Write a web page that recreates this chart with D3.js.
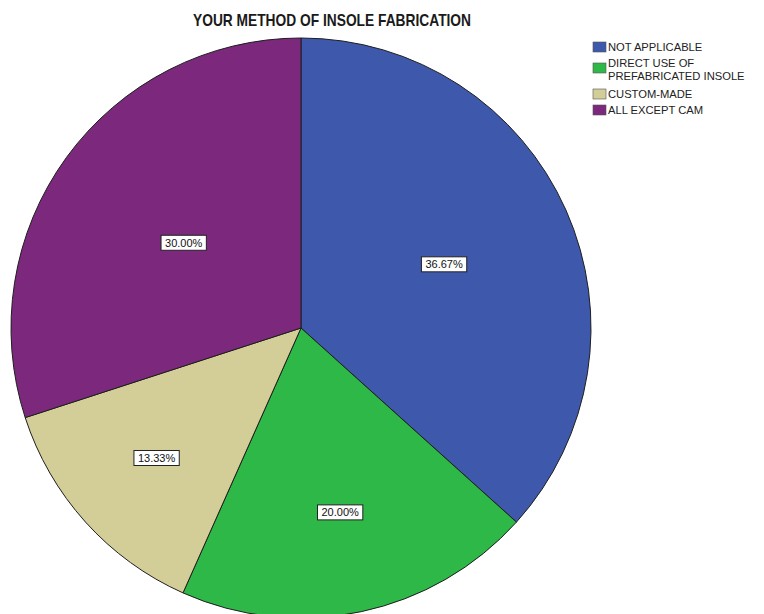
<!DOCTYPE html>
<html>
<head>
<meta charset="utf-8">
<script src="https://cdn.jsdelivr.net/npm/d3@7/dist/d3.min.js"></script>
<style>
  html, body { margin: 0; padding: 0; background: #fff; }
  svg { display: block; }
</style>
</head>
<body>
<svg id="chart" width="764" height="614"></svg>
<script>
// Method of insole fabrication, share of respondents (%)
const categories = ["NOT APPLICABLE", "DIRECT USE OF PREFABRICATED INSOLE", "CUSTOM-MADE", "ALL EXCEPT CAM"];
const legendLines = [["NOT APPLICABLE"], ["DIRECT USE OF", "PREFABRICATED INSOLE"], ["CUSTOM-MADE"], ["ALL EXCEPT CAM"]];
const percents = [36.67, 20.00, 13.33, 30.00];
const colors = ["#3e58ac", "#2eb848", "#d3ce97", "#7c287d"];
const title = "YOUR METHOD OF INSOLE FABRICATION";

const width = 764, height = 614;
const cx = 301, cy = 328, radius = 290;
// radial position of each value label, as a fraction of the radius
const labelFrac = [0.54, 0.65, 0.67, 0.50];

const svg = d3.select("#chart");

// Title
svg.append("text")
  .attr("x", 332)
  .attr("y", 26)
  .attr("text-anchor", "middle")
  .attr("font-family", "Liberation Sans, Arial, sans-serif")
  .attr("font-weight", "bold")
  .attr("font-size", 17)
  .attr("textLength", 278)
  .attr("lengthAdjust", "spacingAndGlyphs")
  .attr("fill", "#1a1a1a")
  .text(title);

const data = categories.map((c, i) => ({ name: c, value: percents[i], color: colors[i], frac: labelFrac[i] }));

const pie = d3.pie().sort(null).value(d => d.value);
const arc = d3.arc().innerRadius(0).outerRadius(radius);
const arcs = pie(data);

const g = svg.append("g").attr("transform", `translate(${cx},${cy})`);

g.selectAll("path.slice")
  .data(arcs)
  .join("path")
  .attr("class", "slice")
  .attr("d", arc)
  .attr("fill", d => d.data.color)
  .attr("stroke", "#1e1e1e")
  .attr("stroke-width", 1)
  .attr("stroke-linejoin", "round");

// Value labels in white boxes
const labels = g.selectAll("g.lbl")
  .data(arcs)
  .join("g")
  .attr("class", "lbl")
  .attr("transform", d => {
    const r = radius * d.data.frac;
    const a = d3.arc().innerRadius(r).outerRadius(r);
    const [x, y] = a.centroid(d);
    return `translate(${x},${y})`;
  });

labels.each(function(d) {
  const sel = d3.select(this);
  const t = sel.append("text")
    .attr("text-anchor", "middle")
    .attr("dy", "0.36em")
    .attr("font-family", "Liberation Sans, Arial, sans-serif")
    .attr("font-size", 11)
    .attr("fill", "#111")
    .text(d.data.value.toFixed(2) + "%");
  const w = t.node().getComputedTextLength();
  sel.insert("rect", "text")
    .attr("x", -w / 2 - 4)
    .attr("y", -7.5)
    .attr("width", w + 8)
    .attr("height", 15)
    .attr("fill", "#fff")
    .attr("stroke", "#222")
    .attr("stroke-width", 1);
});

// Legend
const legend = svg.append("g").attr("transform", "translate(593,42)");
const itemY = [0, 16, 47, 63];
const lineGap = 13;
const item = legend.selectAll("g.item")
  .data(data)
  .join("g")
  .attr("class", "item")
  .attr("transform", (d, i) => `translate(0,${itemY[i]})`);

item.append("rect")
  .attr("x", 0)
  .attr("y", (d, i) => legendLines[i].length > 1 ? 5 : 0)
  .attr("width", 13)
  .attr("height", 10)
  .attr("fill", d => d.color)
  .attr("stroke", "#555")
  .attr("stroke-width", 0.6);

item.each(function(d, i) {
  const sel = d3.select(this);
  legendLines[i].forEach((line, j) => {
    sel.append("text")
      .attr("x", 15)
      .attr("y", 9 + j * lineGap)
      .attr("font-family", "Liberation Sans, Arial, sans-serif")
      .attr("font-size", 11.2)
      .attr("fill", "#222")
      .text(line);
  });
});
</script>
</body>
</html>
